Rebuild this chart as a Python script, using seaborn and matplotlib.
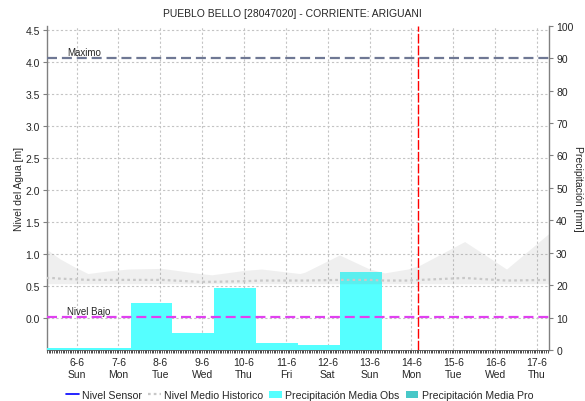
import matplotlib
matplotlib.use("Agg")
import matplotlib.pyplot as plt
import seaborn as sns
from matplotlib.lines import Line2D
from matplotlib.patches import Patch
from matplotlib.ticker import MultipleLocator

sns.set_style("white")
plt.rcParams["font.family"] = ["Liberation Sans", "DejaVu Sans"]

# --- data -------------------------------------------------------------
# x is expressed as day of June (6.0 = 6-6 00:00)
day_ticks = [6, 7, 8, 9, 10, 11, 12, 13, 14, 15, 16, 17]
day_labels = ["6-6\nSun", "7-6\nMon", "8-6\nTue", "9-6\nWed", "10-6\nThu", "11-6\nFri",
              "12-6\nSat", "13-6\nSun", "14-6\nMon", "15-6\nTue", "16-6\nWed", "17-6\nThu"]

# daily precipitation, accumulated 07:00 -> 07:00
precip_start = [4.29, 5.29, 6.29, 7.29, 8.29, 9.29, 10.29, 11.29, 12.29]
precip_obs = [19.0, 0.6, 0.6, 14.5, 5.2, 19.1, 2.2, 1.5, 24.0]

# historical level envelope and mean
hist_t = [5.28, 5.41, 5.60, 5.96, 6.27, 6.75, 7.23, 8.04, 8.94, 9.23, 10.02, 10.42,
          11.33, 11.45, 12.28, 13.00, 13.36, 13.91, 14.20, 15.27, 16.27, 17.29]
hist_max = [1.08, 1.02, 0.93, 0.80, 0.70, 0.74, 0.77, 0.78, 0.70, 0.68, 0.75, 0.77,
            0.70, 0.72, 0.99, 0.77, 0.71, 0.77, 0.83, 1.20, 0.77, 1.33]
hist_mean = [0.63, 0.63, 0.62, 0.61, 0.60, 0.60, 0.60, 0.60, 0.57, 0.57, 0.58, 0.59,
             0.59, 0.59, 0.60, 0.60, 0.59, 0.59, 0.60, 0.63, 0.59, 0.60]
hist_min = [0.54, 0.54, 0.54, 0.54, 0.54, 0.54, 0.54, 0.54, 0.54, 0.54, 0.54, 0.54,
            0.54, 0.54, 0.54, 0.54, 0.54, 0.54, 0.54, 0.54, 0.54, 0.54]

nivel_maximo = 4.07
nivel_bajo = 0.02
now_t = 14.153  # 14-6 03:40

level_ticks = [0.0, 0.5, 1.0, 1.5, 2.0, 2.5, 3.0, 3.5, 4.0, 4.5]
precip_ticks = [0, 10, 20, 30, 40, 50, 60, 70, 80, 90, 100]

# --- figure -----------------------------------------------------------
fig = plt.figure(figsize=(5.85, 4.02), dpi=100)
ax = fig.add_axes([0.0798, 0.1269, 0.859, 0.8067])
ax2 = ax.twinx()   # precipitation (right scale)
ax3 = ax.twinx()   # overlay on the level scale

ax.set_zorder(0)
ax2.set_zorder(1)
ax3.set_zorder(2)
ax2.patch.set_visible(False)
ax3.patch.set_visible(False)

xlim = (5.285, 17.29)
ylim_level = (-0.495, 4.572)
for a in (ax, ax2, ax3):
    a.set_xlim(*xlim)
ax.set_ylim(*ylim_level)
ax3.set_ylim(*ylim_level)
ax2.set_ylim(0, 100)

# grid on the base axes
ax.set_xticks(day_ticks)
ax.set_xticklabels(day_labels)
ax.set_yticks(level_ticks)
ax.set_yticklabels([f"{v:.1f}" for v in level_ticks])
ax.grid(True, color="#C4C4C4", linestyle=(0, (2, 2)), linewidth=0.8)
ax.xaxis.set_minor_locator(MultipleLocator(1 / 24))

# precipitation bars
edges = precip_start + [precip_start[-1] + 1]
mids = [s + 0.5 for s in precip_start]
sns.histplot(x=mids, weights=precip_obs, bins=edges, ax=ax2, color="#55FFFF",
             alpha=1.0, linewidth=0, element="bars", fill=True)
ax2.set_xlim(*xlim)
ax2.set_ylim(0, 100)
ax2.set_yticks(precip_ticks)
ax2.set_yticklabels([str(v) for v in precip_ticks])
ax2.set_ylabel("Precipitación [mm]", rotation=270, fontsize=7.5, labelpad=7)
ax2.set_xlabel("")

# historical envelope and mean level
ax3.fill_between(hist_t, hist_min, hist_max, color="#808080", alpha=0.12, linewidth=0)
sns.lineplot(x=hist_t, y=hist_mean, ax=ax3, color="#C8C8C8", linewidth=1.6,
             linestyle=(0, (1.2, 1.4)))

# reference levels
ax3.axhline(nivel_maximo, color="#6F7894", linewidth=1.6, dashes=(4.5, 2.2))
ax3.axhline(nivel_bajo, color="#E040F0", linewidth=1.6, dashes=(4.5, 2.2))
ax3.text(5.77, nivel_maximo + 0.01, "Maximo", fontsize=7, va="bottom", ha="left")
ax3.text(5.77, nivel_bajo + 0.01, "Nivel Bajo", fontsize=7, va="bottom", ha="left")

# current time
ax3.axvline(now_t, color="#FF0000", linewidth=1.0, dashes=(7, 1.5))

ax3.set_xlim(*xlim)
ax3.set_ylim(*ylim_level)
ax3.set_yticks([])
ax3.set_xlabel("")
ax3.set_ylabel("")

# --- axes styling -----------------------------------------------------
ax.set_ylabel("Nivel del Agua [m]", fontsize=7.5, labelpad=1)
ax.tick_params(axis="y", which="both", left=True, length=3, width=0.8, color="#808080",
               labelsize=7.5, pad=2)
ax.tick_params(axis="x", which="major", bottom=True, length=2, width=0.6, color="#303030",
               labelsize=7.5, pad=3)
ax.tick_params(axis="x", which="minor", bottom=True, length=2, width=0.6, color="#303030")
ax2.tick_params(axis="y", right=True, length=3, width=0.8, color="#808080",
                labelsize=7.5, pad=2)

for a in (ax, ax2, ax3):
    for s in a.spines.values():
        s.set_visible(False)
ax.spines["left"].set_visible(True)
ax.spines["left"].set_color("#808080")
ax.spines["left"].set_linewidth(1.0)
ax.spines["bottom"].set_visible(True)
ax.spines["bottom"].set_color("#505050")
ax.spines["bottom"].set_linewidth(0.6)
ax2.spines["right"].set_visible(True)
ax2.spines["right"].set_color("#808080")
ax2.spines["right"].set_linewidth(1.0)
ax3.tick_params(axis="both", which="both", length=0, labelbottom=False, labelleft=False,
                labelright=False)

fig.text(0.5, 0.965, "PUEBLO BELLO [28047020] - CORRIENTE: ARIGUANI", ha="center",
         va="center", fontsize=7.5)

handles = [
    Line2D([], [], color="#0000FF", linewidth=1.2),
    Line2D([], [], color="#C8C8C8", linewidth=1.6, linestyle=(0, (1.2, 1.4))),
    Patch(facecolor="#55FFFF", edgecolor="none"),
    Patch(facecolor="#48C8C8", edgecolor="none"),
]
labels = ["Nivel Sensor", "Nivel Medio Historico", "Precipitación Media Obs",
          "Precipitación Media Pro"]
fig.legend(handles, labels, loc="center", bbox_to_anchor=(0.512, 0.015), ncol=4,
           frameon=False, fontsize=7.6, handlelength=1.2, handletextpad=0.3,
           columnspacing=0.6)

fig.savefig("out.png", dpi=100)
